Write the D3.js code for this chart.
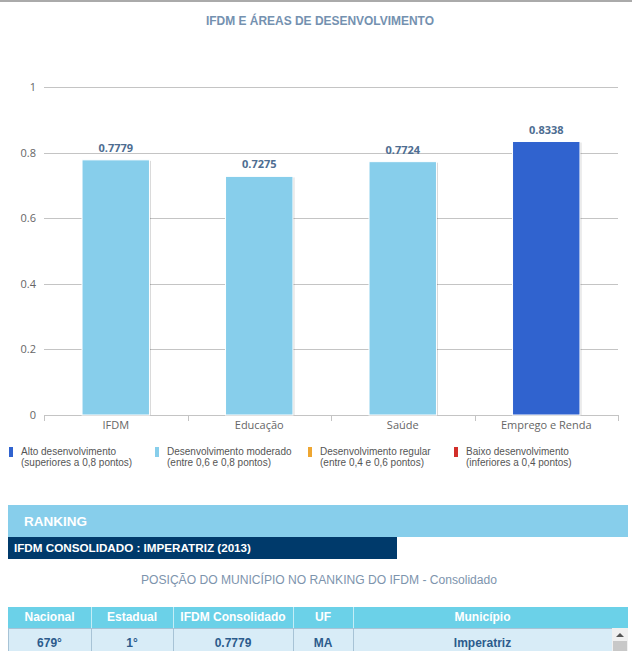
<!DOCTYPE html>
<html>
<head>
<meta charset="utf-8">
<script src="https://cdn.jsdelivr.net/npm/d3@7/dist/d3.min.js"></script>
<style>
  html, body { margin: 0; padding: 0; background: #fff; overflow: hidden; }
  svg { display: block; }
</style>
</head>
<body>
<svg id="chart" width="632" height="651"></svg>
<script>
// ---- data ----
const categories = ["IFDM", "Educação", "Saúde", "Emprego e Renda"];
const values = [0.7779, 0.7275, 0.7724, 0.8338];
const yTicks = [0, 0.2, 0.4, 0.6, 0.8, 1];
const yTickLabels = ["0", "0.2", "0.4", "0.6", "0.8", "1"];

const legendLabels = ["Alto desenvolvimento", "Desenvolvimento moderado", "Desenvolvimento regular", "Baixo desenvolvimento"];
const legendSubs = ["(superiores a 0,8 pontos)", "(entre 0,6 e 0,8 pontos)", "(entre 0,4 e 0,6 pontos)", "(inferiores a 0,4 pontos)"];
const legendColors = ["#3063cf", "#87ceeb", "#eea632", "#d22f2a"];
const legendMin = [0.8, 0.6, 0.4, 0];

const tableHeaders = ["Nacional", "Estadual", "IFDM Consolidado", "UF", "Município"];
const tableRow = ["679°", "1°", "0.7779", "MA", "Imperatriz"];

const chartTitle = "IFDM E ÁREAS DE DESENVOLVIMENTO";
const rankingTitle = "RANKING";
const rankingSub = "IFDM CONSOLIDADO : IMPERATRIZ (2013)";
const rankingCaption = "POSIÇÃO DO MUNICÍPIO NO RANKING DO IFDM - Consolidado";

// ---- drawing ----
const svg = d3.select("#chart");
const W = 632;
const sans = "'Liberation Sans', Arial, sans-serif";
const hc = "'Open Sans', 'Liberation Sans', sans-serif";

// top gray line
svg.append("rect").attr("x", 0).attr("y", 0).attr("width", W).attr("height", 2).attr("fill", "#aaaaaa");

// title
svg.append("text").attr("x", 320).attr("y", 25).attr("text-anchor", "middle")
  .attr("font-family", sans).attr("font-size", 12).attr("font-weight", "bold")
  .attr("fill", "#7491b0").attr("textLength", 228).attr("lengthAdjust", "spacingAndGlyphs")
  .text(chartTitle);

const plotL = 44, plotR = 618, plotT = 87, plotB = 415;
const y = d3.scaleLinear().domain([0, 1]).range([plotB, plotT]);
const x = d3.scaleBand().domain(categories).range([plotL, plotR]).paddingInner(0.53).paddingOuter(0.265);

// gridlines
svg.append("g").selectAll("line").data(yTicks).join("line")
  .attr("x1", plotL).attr("x2", plotR)
  .attr("y1", d => Math.round(y(d)) + 0.5).attr("y2", d => Math.round(y(d)) + 0.5)
  .attr("stroke", "#c4c4c4").attr("stroke-width", 1);

// y labels
svg.append("g").selectAll("text").data(yTicks).join("text")
  .attr("x", 36).attr("y", d => y(d) + 4).attr("text-anchor", "end")
  .attr("font-family", hc).attr("font-size", 11).attr("fill", "#666")
  .text((d, i) => yTickLabels[i]);

// x ticks at band boundaries
const step = x.step();
const bounds = d3.range(categories.length + 1).map(i => plotL + i * step);
svg.append("g").selectAll("line").data(bounds).join("line")
  .attr("x1", d => Math.round(d) + 0.5).attr("x2", d => Math.round(d) + 0.5)
  .attr("y1", plotB).attr("y2", plotB + 6)
  .attr("stroke", "#c4c4c4");

function colorFor(v) {
  for (let i = 0; i < legendMin.length; i++) if (v >= legendMin[i]) return legendColors[i];
  return legendColors[legendColors.length - 1];
}

const data = categories.map((c, i) => ({ c, v: values[i] }));
const bars = svg.append("g");
// shadows
bars.selectAll("rect.sh").data(data).join("rect").attr("class", "sh")
  .attr("x", d => x(d.c) + 1.5).attr("y", d => y(d.v) + 1)
  .attr("width", x.bandwidth()).attr("height", d => plotB - y(d.v) - 1)
  .attr("fill", "#000").attr("opacity", 0.15);
bars.selectAll("rect.bar").data(data).join("rect").attr("class", "bar")
  .attr("x", d => x(d.c)).attr("y", d => y(d.v))
  .attr("width", x.bandwidth()).attr("height", d => plotB - y(d.v))
  .attr("fill", d => colorFor(d.v)).attr("stroke", "#fff").attr("stroke-width", 1);

// value labels
svg.append("g").selectAll("text").data(data).join("text")
  .attr("x", d => x(d.c) + x.bandwidth() / 2).attr("y", d => y(d.v) - 8)
  .attr("text-anchor", "middle").attr("font-family", hc).attr("font-size", 11)
  .attr("font-weight", "bold").attr("fill", "#4e6d91")
  .text(d => d.v.toFixed(4));

// x labels
svg.append("g").selectAll("text").data(categories).join("text")
  .attr("x", d => x(d) + x.bandwidth() / 2).attr("y", 429)
  .attr("text-anchor", "middle").attr("font-family", hc).attr("font-size", 11).attr("fill", "#666")
  .text(d => d);

// legend
const legX = [9, 155, 308, 454];
const leg = svg.append("g").selectAll("g").data(legendLabels).join("g")
  .attr("transform", (d, i) => `translate(${legX[i]},0)`);
leg.append("rect").attr("x", 0).attr("y", 447).attr("width", 4).attr("height", 10)
  .attr("fill", (d, i) => legendColors[i]);
leg.append("text").attr("x", 12).attr("y", 455).attr("font-family", sans).attr("font-size", 10)
  .attr("fill", "#555").text(d => d);
leg.append("text").attr("x", 12).attr("y", 466).attr("font-family", sans).attr("font-size", 10)
  .attr("fill", "#555").text((d, i) => legendSubs[i]);

// ranking band
svg.append("rect").attr("x", 8).attr("y", 505).attr("width", 620).attr("height", 32).attr("fill", "#87ceeb");
svg.append("text").attr("x", 24).attr("y", 526).attr("font-family", sans).attr("font-size", 13)
  .attr("font-weight", "bold").attr("fill", "#fff").attr("textLength", 63).attr("lengthAdjust", "spacingAndGlyphs")
  .text(rankingTitle);
svg.append("rect").attr("x", 8).attr("y", 537).attr("width", 389).attr("height", 22).attr("fill", "#003a6b");
svg.append("text").attr("x", 14).attr("y", 552).attr("font-family", sans).attr("font-size", 11)
  .attr("font-weight", "bold").attr("fill", "#fff").attr("textLength", 237).attr("lengthAdjust", "spacingAndGlyphs")
  .text(rankingSub);

svg.append("text").attr("x", 319).attr("y", 584).attr("text-anchor", "middle")
  .attr("font-family", sans).attr("font-size", 12).attr("fill", "#7d94ad")
  .attr("textLength", 356).attr("lengthAdjust", "spacingAndGlyphs")
  .text(rankingCaption);

// table
const colEdges = [8, 91, 173, 293, 353, 612];
const tHeadY = 607, tHeadH = 21, tRowY = 628, tRowH = 24;
const tg = svg.append("g");
tg.append("rect").attr("x", 8).attr("y", tHeadY).attr("width", 620).attr("height", tHeadH).attr("fill", "#6bd1e8");
tg.append("rect").attr("x", 8).attr("y", tRowY).attr("width", 604).attr("height", tRowH).attr("fill", "#d8ecf7");
// header separators
tg.selectAll("line.hs").data(colEdges.slice(1, -1)).join("line").attr("class", "hs")
  .attr("x1", d => d + 0.5).attr("x2", d => d + 0.5).attr("y1", tHeadY).attr("y2", tHeadY + tHeadH)
  .attr("stroke", "#ffffff").attr("stroke-opacity", 0.6);
// body borders
tg.selectAll("line.bs").data(colEdges).join("line").attr("class", "bs")
  .attr("x1", d => d + 0.5).attr("x2", d => d + 0.5).attr("y1", tRowY).attr("y2", tRowY + tRowH)
  .attr("stroke", "#a7c3d6");
tg.append("line").attr("x1", 8).attr("x2", 612).attr("y1", tRowY + 0.5).attr("y2", tRowY + 0.5).attr("stroke", "#a7c3d6");
tg.selectAll("text.h").data(tableHeaders).join("text").attr("class", "h")
  .attr("x", (d, i) => (colEdges[i] + colEdges[i + 1]) / 2).attr("y", 621)
  .attr("text-anchor", "middle").attr("font-family", sans).attr("font-size", 12).attr("font-weight", "bold")
  .attr("fill", "#fff").text(d => d);
tg.selectAll("text.r").data(tableRow).join("text").attr("class", "r")
  .attr("x", (d, i) => (colEdges[i] + colEdges[i + 1]) / 2).attr("y", 647)
  .attr("text-anchor", "middle").attr("font-family", sans).attr("font-size", 12).attr("font-weight", "bold")
  .attr("fill", "#2c5b8c").text(d => d);
// scrollbar
tg.append("rect").attr("x", 612).attr("y", tRowY).attr("width", 16).attr("height", tRowH).attr("fill", "#f0f0f0");
tg.append("path").attr("d", `M616,${tRowY + 9} L624,${tRowY + 9} L620,${tRowY + 5} Z`).attr("fill", "#555");
tg.append("rect").attr("x", 613).attr("y", tRowY + 13).attr("width", 14).attr("height", 11).attr("fill", "#c8c8c8");
</script>
</body>
</html>
